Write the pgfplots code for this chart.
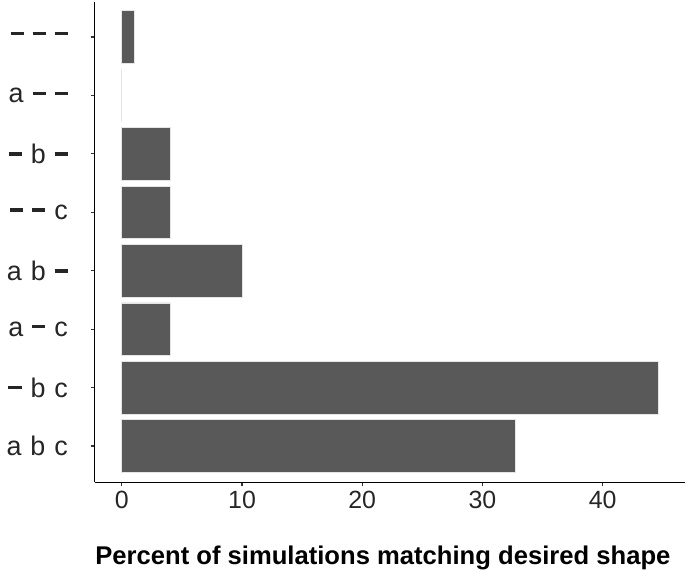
\documentclass[border=0pt]{standalone}
\usepackage{pgfplots}
\pgfplotsset{compat=1.18}
\usepackage{fontspec}
\setmainfont{Liberation Sans}
\definecolor{barfill}{RGB}{89,89,89}
\newcommand\D{\rule[0.29em]{0.49em}{0.12em}}
\newcommand\G{\hspace{0.33em}}
\begin{document}
\begin{tikzpicture}
\path[use as bounding box] (-94.7bp,-93bp) rectangle (590bp,482bp);
\begin{axis}[
  at={(0,0)}, anchor=south west, scale only axis,
  width=590bp, height=480bp,
  xmin=-2.25, xmax=46.85, ymin=0.38, ymax=8.6,
  axis x line*=bottom, axis y line*=left,
  axis line style={line width=1.3bp, black, -},
  xtick={0,10,20,30,40},
  ytick={1,2,3,4,5,6,7,8},
  yticklabels={a\G b\G c, \D\G b\G c, a\G\D\G c, a\G b\G\D, \D\G\D\G c, \D\G b\G\D, a\G\D\G\D, \D\G\D\G\D},
  tick align=outside, major tick length=4bp,
  tick style={line width=1.1bp, black!80},
  ticklabel style={text=black!85, inner sep=0pt},
  xticklabel style={font=\fontsize{25}{29}\selectfont, anchor=north, yshift=-5bp},
  yticklabel style={font=\fontsize{27}{31}\selectfont, anchor=east, xshift=-22.7bp},
  /pgf/number format/assume math mode=true,
  xlabel={Percent of simulations matching desired shape},
  xlabel style={font=\bfseries\fontsize{25.7}{30}\selectfont, at={(axis description cs:0.5,0)}, anchor=center, yshift=-76bp, xshift=-7bp},
]
\addplot[xbar, bar width=0.9, fill=barfill, draw=gray!20, line width=0.6bp]
  coordinates {(32.7,1) (44.6,2) (4,3) (10,4) (4,5) (4,6) (0,7) (1,8)};
\end{axis}
\end{tikzpicture}
\end{document}
